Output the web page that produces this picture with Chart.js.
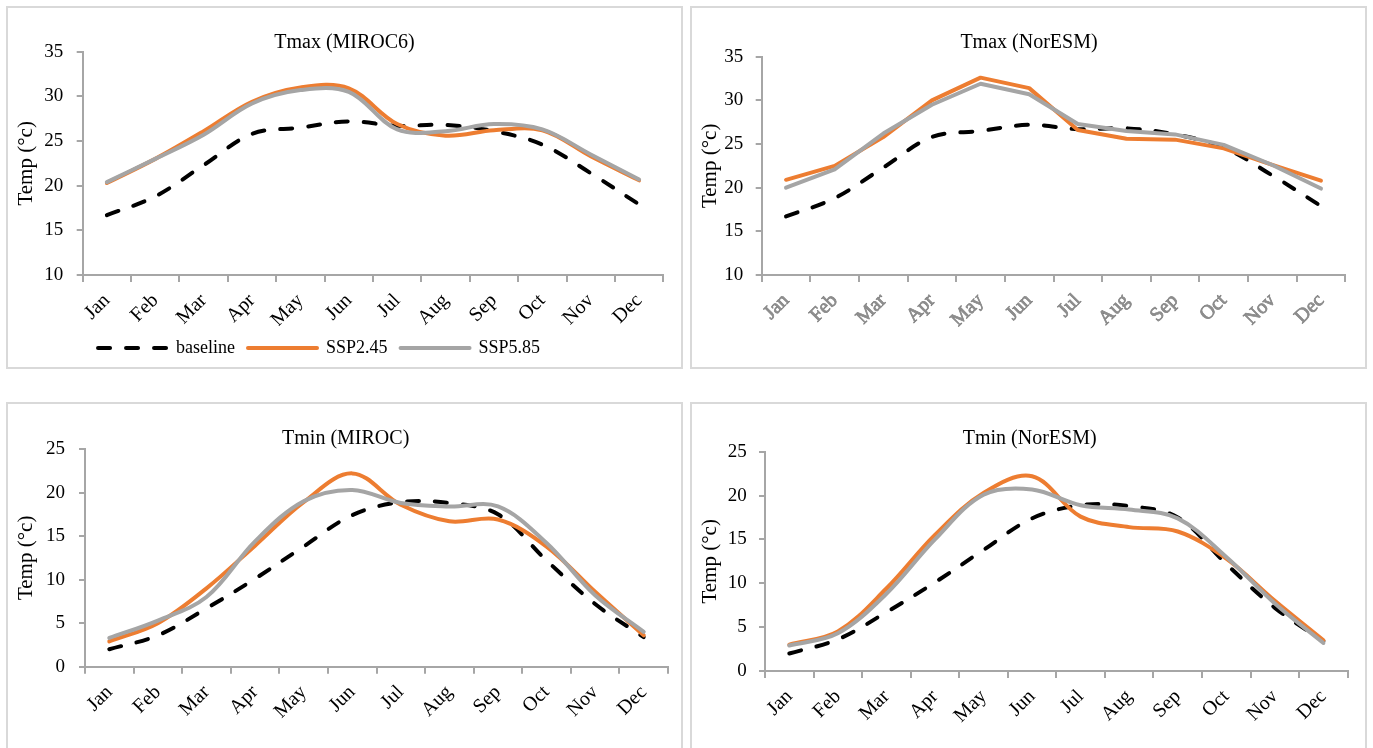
<!DOCTYPE html>
<html>
<head>
<meta charset="utf-8">
<script src="https://cdn.jsdelivr.net/npm/chart.js@4.4.1/dist/chart.umd.min.js"></script>
<style>
html,body{margin:0;padding:0;background:#fff;width:1373px;height:748px;overflow:hidden;}
.panel{position:absolute;border:2px solid #d9d9d9;box-sizing:border-box;}
canvas{position:absolute;}
</style>
</head>
<body>
<div class="panel" style="left:6px;top:6px;width:677px;height:363px"></div>
<div class="panel" style="left:690px;top:6px;width:677px;height:363px"></div>
<div class="panel" style="left:6px;top:402px;width:677px;height:360px"></div>
<div class="panel" style="left:690px;top:402px;width:677px;height:360px"></div>
<canvas id="c1" width="677" height="363" style="left:6px;top:6px"></canvas>
<canvas id="c2" width="677" height="363" style="left:690px;top:6px"></canvas>
<canvas id="c3" width="677" height="346" style="left:6px;top:402px"></canvas>
<canvas id="c4" width="677" height="346" style="left:690px;top:402px"></canvas>
<script>
// ---- data ----
const months = ['Jan','Feb','Mar','Apr','May','Jun','Jul','Aug','Sep','Oct','Nov','Dec'];
const seriesNames = ['baseline','SSP2.45','SSP5.85'];
const panelTitles = ['Tmax (MIROC6)','Tmax (NorESM)','Tmin (MIROC)','Tmin (NorESM)'];
const yAxisTitle = 'Temp (°c)';
const tmaxTicks = [10,15,20,25,30,35];
const tminTicks = [0,5,10,15,20,25];

const tmaxBaseline     = [16.7, 18.8, 22.3, 25.8, 26.5, 27.2, 26.7, 26.8, 26.1, 24.6, 21.4, 17.9];
const tmaxMirocSsp245  = [20.3, 23.0, 26.1, 29.4, 31.0, 30.9, 26.9, 25.6, 26.2, 26.2, 23.3, 20.6];
const tmaxMirocSsp585  = [20.4, 23.0, 25.7, 29.2, 30.7, 30.5, 26.3, 26.1, 26.9, 26.3, 23.5, 20.7];
const tmaxNoresmSsp245 = [20.9, 22.5, 25.8, 30.0, 32.6, 31.4, 26.6, 25.6, 25.5, 24.5, 22.6, 20.8];
const tmaxNoresmSsp585 = [20.0, 22.1, 26.2, 29.5, 31.9, 30.7, 27.3, 26.5, 26.1, 24.9, 22.6, 19.9];

const tminBaseline     = [2.0, 3.6, 6.7, 10.1, 13.8, 17.4, 18.9, 18.8, 17.5, 12.2, 7.2, 3.4];
const tminMirocSsp245  = [2.9, 5.0, 9.0, 13.9, 18.9, 22.2, 18.6, 16.7, 16.9, 13.8, 8.6, 3.6];
const tminMirocSsp585  = [3.3, 5.3, 8.0, 14.4, 19.0, 20.3, 18.8, 18.4, 18.4, 14.2, 8.2, 4.0];
const tminNoresmSsp245 = [3.0, 4.5, 9.4, 15.5, 20.3, 22.2, 17.6, 16.4, 15.9, 12.8, 8.0, 3.5];
const tminNoresmSsp585 = [2.9, 4.3, 8.8, 15.0, 20.1, 20.7, 18.9, 18.4, 17.4, 13.0, 7.7, 3.2];

// ---- rendering ----
const FONT = "'Liberation Serif', 'Times New Roman', serif";
const AXIS = '#a6a6a6';

const titlePlugin = {
  id: 'panelTitle',
  afterDraw(chart, args, o) {
    const ctx = chart.ctx;
    ctx.save();
    ctx.font = '20px ' + FONT;
    ctx.fillStyle = '#000';
    ctx.textAlign = 'center';
    ctx.textBaseline = 'middle';
    ctx.fillText(o.text, o.x, o.y);
    ctx.restore();
  }
};
const legendShift = {
  id: 'legendShift',
  afterLayout(chart, args, o) {
    if (chart.legend && o.dx) { chart.legend.left += o.dx; chart.legend.right += o.dx; }
  }
};

function legendLabels(chart) {
  const items = Chart.defaults.plugins.legend.labels.generateLabels(chart);
  items.forEach(it => {
    const ds = chart.data.datasets[it.datasetIndex];
    it.lineDash = ds.borderDash || [];
    it.lineCap = 'round';
    it.lineWidth = ds.borderWidth;
    it.strokeStyle = ds.borderColor;
    it.pointStyle = 'line';
  });
  return items.sort((a, b) => a.datasetIndex - b.datasetIndex);
}

function buildChart(id, p) {
  const datasets = [
    {label: seriesNames[0], data: p.base, borderColor: '#000', backgroundColor: '#000',
     borderWidth: 4, borderDash: [12, 16], borderCapStyle: 'round', borderJoinStyle: 'round',
     tension: 0.35, order: 3},
    {label: seriesNames[1], data: p.s245, borderColor: '#ED7D31', backgroundColor: '#ED7D31',
     borderWidth: 4, borderCapStyle: 'round', borderJoinStyle: 'round', tension: p.sspTension, order: 2},
    {label: seriesNames[2], data: p.s585, borderColor: '#A5A5A5', backgroundColor: '#A5A5A5',
     borderWidth: 4, borderCapStyle: 'round', borderJoinStyle: 'round', tension: p.sspTension, order: 1}
  ];
  const ticks = p.yTicks;
  new Chart(document.getElementById(id), {
    type: 'line',
    data: {labels: months, datasets},
    options: {
      responsive: false, animation: false, devicePixelRatio: 1,
      layout: {padding: {left: 0, top: p.top, right: p.right, bottom: p.bottom}},
      elements: {point: {radius: 0, hoverRadius: 0}},
      events: [],
      plugins: {
        tooltip: {enabled: false},
        legend: p.legend ? {
          display: true, position: 'bottom', align: 'center',
          labels: {usePointStyle: true, pointStyle: 'line', pointStyleWidth: 69, boxHeight: 18,
                   padding: 13, color: '#000', font: {family: FONT, size: 18},
                   generateLabels: legendLabels}
        } : {display: false},
        panelTitle: {text: p.title, x: p.tx, y: p.ty},
        legendShift: {dx: p.legendDx || 0}
      },
      scales: {
        x: {
          offset: true,
          grid: {offset: true, drawOnChartArea: false, drawTicks: true, tickLength: 7, color: AXIS, lineWidth: 2},
          border: {display: true, color: AXIS, width: 2},
          ticks: {font: {family: FONT, size: 20}, color: p.xColor, minRotation: 45, maxRotation: 45,
                  padding: 7, autoSkip: false,
                  textStrokeColor: p.xStroke || undefined, textStrokeWidth: p.xStroke ? 0.7 : 0},
          afterFit: s => { s.height = p.xh; }
        },
        y: {
          min: ticks[0], max: ticks[ticks.length - 1],
          afterBuildTicks: s => { s.ticks = ticks.map(v => ({value: v})); },
          grid: {drawOnChartArea: false, drawTicks: true, tickLength: 6, color: AXIS, lineWidth: 2},
          border: {display: true, color: AXIS, width: 2},
          ticks: {font: {family: FONT, size: 19}, color: '#000', padding: p.yPad},
          title: {display: true, text: yAxisTitle, color: '#000',
                  font: {family: FONT, size: 21, lineHeight: 1.2}, padding: {top: 8, bottom: 0}},
          afterFit: s => { s.width = p.yw; }
        }
      }
    },
    plugins: [titlePlugin, legendShift]
  });
}

buildChart('c1', {base: tmaxBaseline, s245: tmaxMirocSsp245, s585: tmaxMirocSsp585, sspTension: 0.35,
  yTicks: tmaxTicks, title: panelTitles[0], tx: 338.5, ty: 36.5,
  top: 45.7, right: 19.7, bottom: 2, xh: 51, yw: 76.7, yPad: 13.4,
  legend: true, legendDx: -15.6, xColor: '#000'});
buildChart('c2', {base: tmaxBaseline, s245: tmaxNoresmSsp245, s585: tmaxNoresmSsp585, sspTension: 0,
  yTicks: tmaxTicks, title: panelTitles[1], tx: 339, ty: 36.5,
  top: 50.7, right: 21.7, bottom: 0, xh: 94, yw: 71.7, yPad: 12.4,
  legend: false, xColor: '#8c8c8c', xStroke: '#7a7a7a'});
buildChart('c3', {base: tminBaseline, s245: tminMirocSsp245, s585: tminMirocSsp585, sspTension: 0.35,
  yTicks: tminTicks, title: panelTitles[2], tx: 339.7, ty: 36.3,
  top: 47, right: 15, bottom: 0, xh: 81.3, yw: 79, yPad: 14,
  legend: false, xColor: '#000'});
buildChart('c4', {base: tminBaseline, s245: tminNoresmSsp245, s585: tminNoresmSsp585, sspTension: 0.35,
  yTicks: tminTicks, title: panelTitles[3], tx: 339.7, ty: 36.8,
  top: 49.7, right: 19.3, bottom: 0, xh: 77, yw: 75, yPad: 12.3,
  legend: false, xColor: '#000'});
</script>
</body>
</html>
